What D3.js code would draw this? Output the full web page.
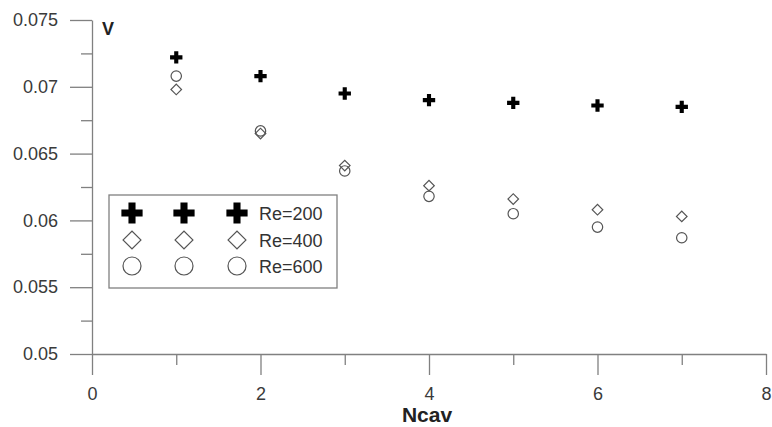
<!DOCTYPE html>
<html>
<head>
<meta charset="utf-8">
<script src="https://cdn.jsdelivr.net/npm/d3@7"></script>
<style>
  body { margin: 0; background: #fff; }
  svg { display: block; font-family: "Liberation Sans", Arial, sans-serif; }
  .axis path, .axis line { stroke: #808080; stroke-width: 1.3; }
  .axis text { fill: #3a3a3a; font-size: 18px; }
</style>
</head>
<body>
<script>
// data
var ncav = [1, 2, 3, 4, 5, 6, 7];
var re200 = [0.0722, 0.0708, 0.0695, 0.0690, 0.0688, 0.0686, 0.0685];
var re400 = [0.0698, 0.0665, 0.0641, 0.0626, 0.0616, 0.0608, 0.0603];
var re600 = [0.0708, 0.0667, 0.0637, 0.0618, 0.0605, 0.0595, 0.0587];
var legendLabels = ["Re=200", "Re=400", "Re=600"];
var xTicks = [0, 2, 4, 6, 8];
var xMinor = [1, 3, 5, 7];
var yTicks = [0.05, 0.055, 0.06, 0.065, 0.07, 0.075];
var yMinor = [0.0525, 0.0575, 0.0625, 0.0675, 0.0725];

var width = 772, height = 427;

var svg = d3.select("body").append("svg")
  .attr("width", width)
  .attr("height", height);

var scalex = d3.scaleLinear().domain([0, 8]).range([92, 766]);
var scaley = d3.scaleLinear().domain([0.05, 0.075]).range([354, 20]);

// minor ticks first
svg.append("g")
  .attr("class", "axis")
  .attr("transform", "translate(0,354)")
  .call(d3.axisBottom(scalex).tickValues(xMinor).tickSize(11).tickSizeOuter(0).tickFormat(""))
  .select(".domain").remove();
svg.append("g")
  .attr("class", "axis")
  .attr("transform", "translate(92,0)")
  .call(d3.axisLeft(scaley).tickValues(yMinor).tickSize(11).tickSizeOuter(0).tickFormat(""))
  .select(".domain").remove();

// major axes
svg.append("g")
  .attr("class", "axis")
  .attr("transform", "translate(0,354)")
  .call(d3.axisBottom(scalex).tickValues(xTicks).tickSize(21).tickSizeOuter(0).tickPadding(12).tickFormat(d3.format("d")));

svg.append("g")
  .attr("class", "axis")
  .attr("transform", "translate(92,0)")
  .call(d3.axisLeft(scaley).tickValues(yTicks).tickSize(22).tickSizeOuter(0).tickPadding(12).tickFormat(d => d3.format("")(+d.toFixed(3))));

// axis titles
svg.append("text")
  .attr("x", 102).attr("y", 35)
  .style("font-size", "18px").style("font-weight", "bold").attr("fill", "#222")
  .text("V");
svg.append("text")
  .attr("x", scalex(4) - 2).attr("y", 422)
  .attr("text-anchor", "middle")
  .style("font-size", "21px").style("font-weight", "bold").attr("fill", "#222")
  .text("Ncav");

// marker makers
var crossPath = s => d3.symbol().type(d3.symbolCross).size(s)();
var diamondPath = s => d3.symbol().type(d3.symbolSquare).size(s)();

function drawCross(g, x, y, s) {
  g.append("path").attr("d", crossPath(s))
    .attr("transform", "translate(" + x + "," + y + ")")
    .attr("fill", "#000");
}
function drawDiamond(g, x, y, s) {
  g.append("path").attr("d", diamondPath(s))
    .attr("transform", "translate(" + x + "," + y + ") rotate(45)")
    .attr("fill", "none").attr("stroke", "#555").attr("stroke-width", 1.2);
}
function drawCircle(g, x, y, r) {
  g.append("circle").attr("cx", x).attr("cy", y).attr("r", r)
    .attr("fill", "none").attr("stroke", "#555").attr("stroke-width", 1.2);
}

var pts = svg.append("g");
ncav.forEach(function (n, i) {
  drawCircle(pts, scalex(n), scaley(re600[i]), 5.2);
  drawDiamond(pts, scalex(n), scaley(re400[i]), 56);
  drawCross(pts, scalex(n), scaley(re200[i]), 85);
});

// legend
var leg = svg.append("g");
leg.append("rect")
  .attr("x", 109).attr("y", 195).attr("width", 228).attr("height", 93)
  .attr("fill", "#fff").attr("stroke", "#808080").attr("stroke-width", 1.3);
var rowY = [213, 240, 266];
var colX = [132, 184, 237];
colX.forEach(function (cx) {
  drawCross(leg, cx, rowY[0], 250);
  drawDiamond(leg, cx, rowY[1], 160);
  drawCircle(leg, cx, rowY[2], 9);
});
leg.selectAll("text.lab")
  .data(legendLabels)
  .enter().append("text")
  .attr("class", "lab")
  .attr("x", 259)
  .attr("y", (d, i) => rowY[i] + 7)
  .style("font-size", "18px")
  .attr("fill", "#333")
  .text(d => d);
</script>
</body>
</html>
